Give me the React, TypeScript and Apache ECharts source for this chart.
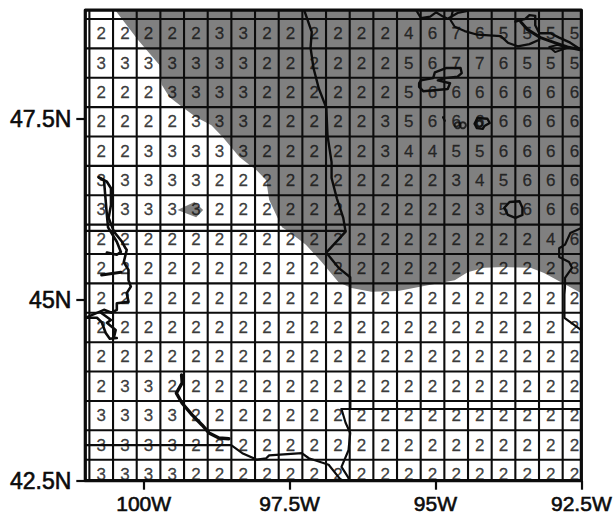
import React, { useEffect, useRef } from "react";
import * as echarts from "echarts";

type Pt = [number, number];

// Axis extents and tick values
const lonRange: Pt = [-101, -92.5];
const latRange: Pt = [42.5, 49];
const lonTicks = [-100, -97.5, -95, -92.5];
const latTicks = [42.5, 45, 47.5];

// Model grid: first cell edges and spacing, in degrees
const firstLonEdge = -100.93;
const firstLatEdge = 48.877;
const cellLon = 0.4055;
const cellLat = 0.4058;

// Cell values, top row first
const cellValues: number[][] = [
  [2, 2, 2, 2, 2, 3, 3, 2, 2, 2, 2, 2, 2, 4, 6, 7, 6, 5, 5, 5, 5],
  [3, 3, 3, 3, 3, 3, 3, 2, 2, 2, 2, 2, 2, 5, 6, 7, 7, 6, 5, 5, 5],
  [2, 2, 2, 3, 3, 3, 3, 2, 2, 2, 2, 2, 2, 5, 6, 6, 6, 6, 6, 6, 6],
  [2, 2, 2, 2, 3, 3, 3, 2, 2, 2, 2, 2, 3, 5, 6, 6, 6, 6, 6, 6, 6],
  [2, 2, 3, 3, 3, 3, 3, 2, 2, 2, 2, 2, 3, 4, 4, 5, 5, 6, 6, 6, 6],
  [3, 3, 3, 3, 3, 2, 2, 2, 2, 2, 2, 2, 2, 2, 2, 3, 4, 5, 6, 6, 6],
  [3, 3, 3, 3, 3, 2, 2, 2, 2, 2, 2, 2, 2, 2, 2, 2, 3, 5, 6, 6, 6],
  [2, 2, 2, 2, 2, 2, 2, 2, 2, 2, 2, 2, 2, 2, 2, 2, 2, 2, 2, 4, 6],
  [2, 2, 2, 2, 2, 2, 2, 2, 2, 2, 2, 2, 2, 2, 2, 2, 2, 2, 2, 2, 3],
  [2, 2, 2, 2, 2, 2, 2, 2, 2, 2, 2, 2, 2, 2, 2, 2, 2, 2, 2, 2, 2],
  [2, 2, 2, 2, 2, 2, 2, 2, 2, 2, 2, 2, 2, 2, 2, 2, 2, 2, 2, 2, 2],
  [2, 2, 2, 2, 2, 2, 2, 2, 2, 2, 2, 2, 2, 2, 2, 2, 2, 2, 2, 2, 2],
  [2, 3, 3, 2, 2, 2, 2, 2, 2, 2, 2, 2, 2, 2, 2, 2, 2, 2, 2, 2, 2],
  [3, 3, 3, 3, 2, 2, 2, 2, 2, 2, 2, 2, 2, 2, 2, 2, 2, 2, 2, 2, 2],
  [3, 3, 3, 3, 2, 2, 2, 2, 2, 2, 2, 2, 2, 2, 2, 2, 2, 2, 2, 2, 2],
  [3, 3, 3, 3, 2, 2, 2, 2, 2, 2, 2, 2, 2, 2, 2, 2, 2, 2, 2, 2, 2],
];

// Shaded region outline (lon, lat)
const shadedArea: Pt[] = [
  [-100.49, 49], [-100.1, 48.59], [-99.73, 48.24], [-99.69, 47.97], [-99.56, 47.8],
  [-99.34, 47.66], [-99.1, 47.52], [-98.84, 47.41], [-98.65, 47.25], [-98.36, 46.97],
  [-98.07, 46.79], [-97.9, 46.65], [-97.85, 46.38], [-97.63, 46.0], [-97.51, 45.94],
  [-97.22, 45.76], [-96.95, 45.52], [-96.66, 45.24], [-96.44, 45.16], [-96.1, 45.11],
  [-95.64, 45.12], [-95.13, 45.2], [-94.67, 45.27], [-94.45, 45.38], [-94.16, 45.44],
  [-93.82, 45.45], [-93.37, 45.44], [-93.14, 45.37], [-92.91, 45.27], [-92.5, 45.09],
  [-92.5, 49],
];
const shadedIsland: Pt[] = [[-99.42, 46.24], [-99.13, 46.35], [-98.98, 46.24], [-99.1, 46.14]];

// Political boundaries
const ndSdBorder: Pt[] = [[-101, 45.95], [-96.54, 45.95]];
const mnIaBorder: Pt[] = [[-96.61, 43.49], [-92.5, 43.49]];
const sdNeBorder: Pt[] = [
  [-101, 42.99], [-98.5, 42.99], [-98.31, 42.88], [-98.06, 42.79], [-97.9, 42.81], [-97.85, 42.85],
  [-97.29, 42.88], [-97.17, 42.81], [-96.83, 42.72], [-96.66, 42.55], [-96.61, 42.5],
];
const redRiver: Pt[] = [
  [-97.25, 49], [-97.12, 48.7], [-97.14, 48.48], [-97.09, 48.2], [-97.0, 47.92], [-96.87, 47.65],
  [-96.85, 47.27], [-96.78, 46.9], [-96.78, 46.68], [-96.69, 46.4], [-96.58, 46.13], [-96.54, 45.94],
  [-96.87, 45.65], [-96.66, 45.44], [-96.46, 45.31], [-96.46, 43.5],
];
const bigSioux: Pt[] = [
  [-96.61, 43.49], [-96.54, 43.3], [-96.46, 43.16], [-96.49, 42.92], [-96.61, 42.69], [-96.49, 42.54], [-96.49, 42.5],
];
const mnWiBorder: Pt[] = [
  [-92.5, 45.99], [-92.69, 45.92], [-92.78, 45.76], [-92.88, 45.71], [-92.88, 45.59], [-92.71, 45.52],
  [-92.66, 45.44], [-92.78, 45.3], [-92.78, 45.18], [-92.79, 45.07], [-92.79, 44.75], [-92.5, 44.58],
];

// Missouri and James rivers
const missouriA: Pt[] = [
  [-100.77, 46.69], [-100.63, 46.63], [-100.56, 46.54], [-100.56, 46.31], [-100.6, 46.13], [-100.51, 45.94],
  [-100.37, 45.8], [-100.31, 45.71], [-100.29, 45.69], [-100.34, 45.52], [-100.26, 45.41], [-100.26, 45.27],
  [-100.22, 45.18], [-100.29, 45.09], [-100.26, 44.97], [-100.46, 44.95], [-100.46, 44.86], [-100.55, 44.82],
  [-100.68, 44.86], [-100.97, 44.76],
];
const missouriB: Pt[] = [
  [-100.77, 46.69], [-100.68, 46.65], [-100.63, 46.17], [-100.61, 46.0], [-100.46, 45.8], [-100.39, 45.66],
  [-100.46, 45.62], [-100.63, 45.65],
];
const missouriBranch: Pt[] = [[-100.72, 45.34], [-100.39, 45.38]];
const missouriC: Pt[] = [
  [-100.97, 44.75], [-100.8, 44.75], [-100.72, 44.69], [-100.65, 44.54], [-100.58, 44.46], [-100.46, 44.47],
  [-100.51, 44.48], [-100.48, 44.58], [-100.63, 44.68], [-100.56, 44.72], [-100.73, 44.82],
];
const jamesRiver: Pt[] = [
  [-99.35, 43.96], [-99.34, 43.85], [-99.44, 43.71], [-99.34, 43.57], [-99.17, 43.41], [-99.0, 43.27],
  [-98.88, 43.16], [-98.71, 43.09], [-98.54, 43.08],
];

// Northern border and lakes
const borderA: Pt[] = [
  [-95.33, 49], [-95.25, 48.89], [-95.09, 48.91], [-94.99, 48.97], [-94.87, 48.91], [-94.79, 48.88],
  [-94.62, 48.96], [-94.45, 48.99],
];
const borderB: Pt[] = [
  [-94.7, 49], [-94.74, 48.86], [-94.67, 48.77], [-94.5, 48.71], [-94.28, 48.66], [-93.88, 48.64],
  [-93.76, 48.55], [-93.59, 48.5], [-93.39, 48.53], [-93.22, 48.59],
];
const woodsA: Pt[] = [
  [-93.63, 48.84], [-93.46, 48.88], [-93.39, 48.93], [-93.29, 48.92], [-93.29, 48.79], [-93.22, 48.68],
  [-93.03, 48.68], [-92.88, 48.62], [-92.69, 48.55], [-92.5, 48.45],
];
const woodsB: Pt[] = [
  [-93.54, 48.84], [-93.42, 48.73], [-93.2, 48.62], [-92.96, 48.55], [-92.74, 48.49], [-92.5, 48.45],
];
const woodsC: Pt[] = [[-93.05, 48.49], [-92.95, 48.42], [-92.74, 48.48], [-92.91, 48.52], [-93.05, 48.49]];
const redLake: Pt[] = [
  [-95.28, 47.99], [-95.25, 48.03], [-95.04, 48.06], [-95.01, 48.14], [-94.82, 48.2], [-94.57, 48.2],
  [-94.55, 48.13], [-94.62, 48.08], [-94.84, 48.06], [-94.96, 48.03], [-94.75, 47.99], [-94.79, 47.91],
  [-95.21, 47.88], [-95.28, 47.94], [-95.28, 47.99],
];
const lakeTick: Pt[] = [[-94.87, 47.52], [-94.84, 47.47]];
const leechLake: Pt[] = [
  [-94.33, 47.43], [-94.28, 47.51], [-94.11, 47.5], [-94.07, 47.44], [-94.16, 47.4], [-94.19, 47.36],
  [-94.29, 47.37], [-94.33, 47.43],
];
const milleLacs: Pt[] = [
  [-93.82, 46.27], [-93.73, 46.35], [-93.56, 46.36], [-93.51, 46.27], [-93.51, 46.17], [-93.63, 46.13],
  [-93.76, 46.17], [-93.82, 46.27],
];
const smallLakes: Pt[] = [[-94.62, 47.41], [-94.53, 47.41], [-94.25, 47.43]];

const INK = "#0c0c0c";

function line(data: Pt[], width: number, z = 5) {
  return {
    type: "line",
    data,
    showSymbol: false,
    symbol: "none",
    silent: true,
    z,
    lineStyle: { color: INK, width, join: "round", cap: "round" },
  };
}

function shade(points: Pt[]) {
  return {
    type: "custom",
    data: [points[0]],
    silent: true,
    z: 1,
    renderItem: (_p: unknown, api: any) => ({
      type: "polygon",
      shape: { points: points.map((q) => api.coord(q)) },
      style: { fill: "#808080", stroke: "none" },
    }),
  };
}

const lonEdges = cellValues[0].map((_, k) => firstLonEdge + k * cellLon);
const latEdges = cellValues.map((_, k) => firstLatEdge - k * cellLat);

const cellPoints = cellValues.flatMap((row, r) =>
  row.map((v, c) => [
    firstLonEdge + (c + 0.5) * cellLon,
    firstLatEdge - (r + 0.5) * cellLat,
    v,
  ])
);

const frame: Pt[] = [
  [lonRange[0], latRange[0]],
  [lonRange[1], latRange[0]],
  [lonRange[1], latRange[1]],
  [lonRange[0], latRange[1]],
  [lonRange[0], latRange[0]],
];

export default function App() {
  const ref = useRef<HTMLDivElement>(null);
  useEffect(() => {
    if (!ref.current) return;
    const chart = echarts.init(ref.current, undefined, { renderer: "svg" });
    const axisFont = "'Liberation Sans', Arial, sans-serif";
    chart.setOption({
      animation: false,
      backgroundColor: "#ffffff",
      grid: { left: 85.3, top: 10.1, width: 499, height: 470.6 },
      xAxis: {
        type: "value",
        min: lonRange[0],
        max: lonRange[1],
        splitLine: { show: false },
        axisLine: { show: false },
        axisTick: { show: true, customValues: lonTicks, length: 9, lineStyle: { color: INK, width: 2.2 } },
        axisLabel: {
          customValues: lonTicks,
          formatter: (v: number) => `${Math.abs(v)}W`,
          color: INK,
          fontSize: 21,
          fontFamily: axisFont,
          textBorderColor: INK,
          textBorderWidth: 0.6,
          margin: 12,
          hideOverlap: false,
          showMinLabel: true,
          showMaxLabel: true,
        },
      },
      yAxis: {
        type: "value",
        min: latRange[0],
        max: latRange[1],
        splitLine: { show: false },
        axisLine: { show: false },
        axisTick: { show: true, customValues: latTicks, length: 9, lineStyle: { color: INK, width: 2.2 } },
        axisLabel: {
          customValues: latTicks,
          formatter: (v: number) => `${v}N`,
          color: INK,
          fontSize: 23,
          fontFamily: axisFont,
          textBorderColor: INK,
          textBorderWidth: 0.6,
          margin: 14,
          hideOverlap: false,
          showMinLabel: true,
          showMaxLabel: true,
        },
      },
      series: [
        shade(shadedArea),
        shade(shadedIsland),
        {
          type: "scatter",
          data: cellPoints,
          symbolSize: 1,
          silent: true,
          z: 3,
          itemStyle: { color: "transparent" },
          label: {
            show: true,
            position: "inside",
            formatter: (p: any) => String(p.value[2]),
            color: "#111111",
            fontSize: 17,
            fontFamily: axisFont,
            textBorderColor: "#111111",
            textBorderWidth: 0.3,
          },
        },
        ...lonEdges.map((x) => line([[x, latRange[0]], [x, latRange[1]]], 2.1, 4)),
        ...latEdges.map((y) => line([[lonRange[0], y], [lonRange[1], y]], 2.1, 4)),
        line(ndSdBorder, 2.2),
        line(mnIaBorder, 2.2),
        line(sdNeBorder, 2.2),
        line(redRiver, 2.4),
        line(bigSioux, 2.2),
        line(mnWiBorder, 2.2),
        line(missouriA, 2.6),
        line(missouriB, 2.6),
        line(missouriBranch, 3),
        line(missouriC, 2.6),
        line(jamesRiver, 3.4),
        line(borderA, 2.2),
        line(borderB, 2.2),
        line(woodsA, 2.4),
        line(woodsB, 3),
        line(woodsC, 2),
        line(redLake, 2.4),
        line(lakeTick, 2.2),
        line(leechLake, 2.4),
        line(milleLacs, 2.4),
        {
          type: "scatter",
          data: smallLakes,
          symbol: "circle",
          symbolSize: 6,
          silent: true,
          z: 6,
          itemStyle: { color: "transparent", borderColor: INK, borderWidth: 2 },
        },
        { ...line(frame, 3.2, 7), clip: false },
      ],
    });
    return () => chart.dispose();
  }, []);
  return (
    <div
      ref={ref}
      style={{ position: "absolute", left: 0, top: 0, width: 615, height: 514 }}
    />
  );
}
